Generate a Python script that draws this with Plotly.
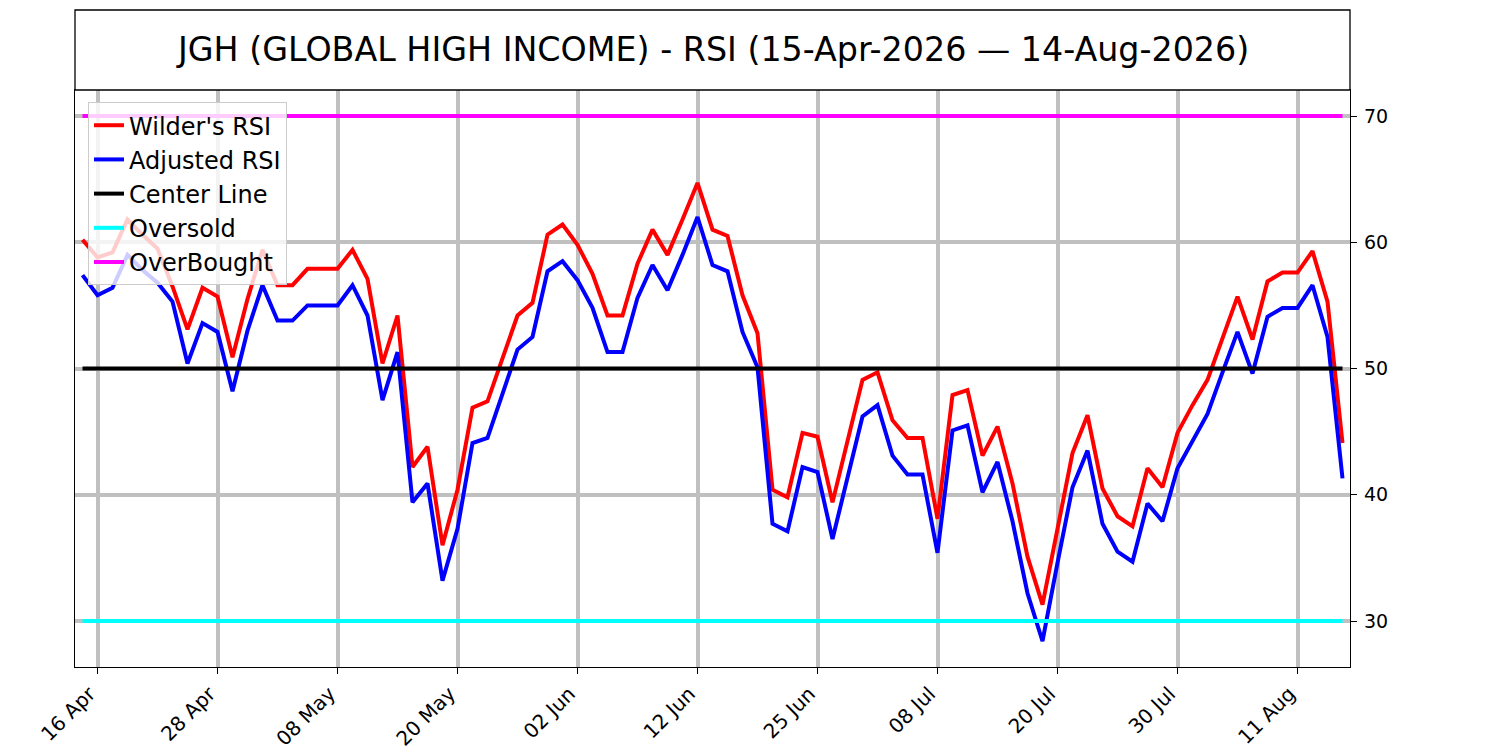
import pandas as pd
import plotly.graph_objects as go

# ==========================================
# 1. data
# ==========================================
holidays = ["2026-05-25", "2026-06-19", "2026-07-03"]
dates = [d.strftime("%Y-%m-%d") for d in pd.bdate_range("2026-04-15", "2026-08-14")
         if d.strftime("%Y-%m-%d") not in holidays]

wilder_rsi = [
    60.2, 58.8, 59.2, 61.8, 60.6, 59.5, 56.5, 53.1, 56.4, 55.7,
    50.9, 55.5, 59.4, 56.6, 56.6, 57.9, 57.9, 57.9, 59.4, 57.1,
    50.4, 54.2, 42.2, 43.8, 36.0, 40.4, 46.9, 47.4, 50.8, 54.2,
    55.2, 60.6, 61.4, 59.8, 57.5, 54.2, 54.2, 58.3, 61.0, 59.0,
    61.8, 64.7, 61.0, 60.5, 55.8, 52.8, 40.4, 39.8, 44.9, 44.6,
    39.4, 44.2, 49.1, 49.7, 45.9, 44.5, 44.5, 38.1, 47.9, 48.3,
    43.1, 45.4, 40.9, 35.1, 31.3, 37.3, 43.3, 46.3, 40.5, 38.3,
    37.5, 42.1, 40.6, 44.9, 47.1, 49.1, 52.5, 55.7, 52.3, 56.9,
    57.6, 57.6, 59.3, 55.3, 44.1,
]
adjusted_rsi = [
    57.4, 55.8, 56.4, 59.0, 57.8, 56.8, 55.3, 50.4, 53.6, 52.9,
    48.2, 53.0, 56.6, 53.8, 53.8, 55.0, 55.0, 55.0, 56.6, 54.2,
    47.5, 51.3, 39.4, 40.9, 33.2, 37.3, 44.1, 44.5, 48.0, 51.5,
    52.5, 57.7, 58.5, 57.0, 54.8, 51.3, 51.3, 55.6, 58.2, 56.2,
    59.0, 62.0, 58.2, 57.7, 52.9, 50.1, 37.7, 37.1, 42.2, 41.8,
    36.5, 41.4, 46.2, 47.1, 43.1, 41.6, 41.6, 35.4, 45.1, 45.5,
    40.2, 42.6, 37.9, 32.2, 28.4, 34.6, 40.6, 43.5, 37.7, 35.5,
    34.7, 39.3, 37.9, 42.1, 44.3, 46.4, 49.7, 52.9, 49.6, 54.1,
    54.8, 54.8, 56.6, 52.5, 41.3,
]

center_level = 50
oversold_level = 30
overbought_level = 70

tick_dates = ["2026-04-16", "2026-04-28", "2026-05-08", "2026-05-20", "2026-06-02", "2026-06-12",
              "2026-06-25", "2026-07-08", "2026-07-20", "2026-07-30", "2026-08-11"]
tick_labels = ["16 Apr", "28 Apr", "08 May", "20 May", "02 Jun", "12 Jun",
               "25 Jun", "08 Jul", "20 Jul", "30 Jul", "11 Aug"]
y_ticks = [30, 40, 50, 60, 70]

title = "JGH (GLOBAL HIGH INCOME) - RSI (15-Apr-2026 \u2014 14-Aug-2026)"

# ==========================================
# 2. traces
# ==========================================
fig = go.Figure()

def add_line(y, name, color):
    fig.add_trace(go.Scatter(x=dates, y=y, name=name, mode="lines",
                             line=dict(color=color, width=4)))

add_line(wilder_rsi, "Wilder's RSI", "#ff0000")
add_line(adjusted_rsi, "Adjusted RSI", "#0000ff")
add_line([center_level] * len(dates), "Center Line", "#000000")
add_line([oversold_level] * len(dates), "Oversold", "#00ffff")
add_line([overbought_level] * len(dates), "OverBought", "#ff00ff")

# ==========================================
# 3. layout
# ==========================================
grid_c = "#c0c0c0"
font = "DejaVu Sans"

# page body has an 8px margin, so the margins are shifted to compensate
fig.update_layout(
    width=1500, height=750,
    margin=dict(l=67, r=158, t=82, b=91),
    plot_bgcolor="white", paper_bgcolor="white",
    font=dict(family=font, color="black", size=19),
    showlegend=True,
    legend=dict(x=0.0102, y=0.979, xanchor="left", yanchor="top",
                bgcolor="rgba(255,255,255,0.8)", bordercolor="#cccccc", borderwidth=1,
                font=dict(size=24, family=font), itemwidth=30),
)

fig.update_xaxes(
    type="category", range=[-0.5, len(dates) - 0.5], automargin=False,
    tickmode="array", tickvals=tick_dates, ticktext=tick_labels, tickangle=-45,
    ticks="outside", ticklen=6, tickwidth=1.3, tickcolor="black",
    showgrid=True, gridcolor=grid_c, gridwidth=4,
    showline=True, linecolor="black", linewidth=1.3, mirror=True,
    tickfont=dict(size=20), zeroline=False, ticklabelshift=-8,
)
fig.update_yaxes(
    side="right", range=[26.36, 72.06], automargin=False,
    tickmode="array", tickvals=y_ticks,
    ticks="outside", ticklen=6, tickwidth=1.3, tickcolor="black",
    showgrid=True, gridcolor=grid_c, gridwidth=4,
    showline=True, linecolor="black", linewidth=1.3, mirror=True,
    tickfont=dict(size=19), zeroline=False, ticklabelstandoff=3,
)

# title box above the plot (like a separate axes)
fig.add_shape(type="rect", xref="paper", yref="paper", x0=0, x1=1, y0=1, y1=1 + 80 / 577,
              line=dict(color="black", width=1.3), fillcolor="white", layer="above")
fig.add_annotation(text=title, xref="paper", yref="paper", x=0.5, y=1 + 40 / 577,
                   xanchor="center", yanchor="middle", showarrow=False,
                   font=dict(size=33.3, family=font, color="black"))

fig.write_html("out.html")
